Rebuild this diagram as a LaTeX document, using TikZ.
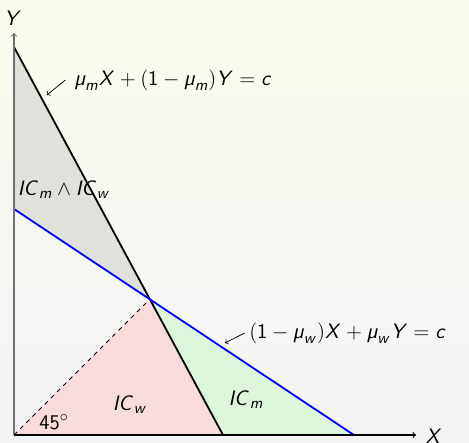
\documentclass[tikz,border=0pt]{standalone}
\usepackage{amsmath}
\renewcommand{\familydefault}{\sfdefault}
\DeclareMathAlphabet{\msl}{OT1}{cmss}{m}{sl}
\DeclareMathAlphabet{\mup}{OT1}{cmss}{m}{n}
\newcommand{\mymu}{\text{\normalfont\sffamily\itshape\char"00B5}}
\definecolor{bgtop}{RGB}{251,251,237}
\definecolor{bgbot}{RGB}{244,244,247}
\definecolor{regboth}{RGB}{225,225,219}
\definecolor{regw}{RGB}{248,219,219}
\definecolor{regm}{RGB}{221,245,219}
\definecolor{yaxis}{RGB}{110,110,110}
\begin{document}
\begin{tikzpicture}[x=0.69pt,y=-0.69pt,
  lbl/.style={font=\fontsize{15}{18}\selectfont\sffamily, inner sep=0pt},
  lblarrow/.style={->, >=to, line width=0.5pt},
  axisline/.style={->, >=to, line width=0.7pt},
  budget/.style={line width=1.25pt}]
\useasboundingbox (0,0) rectangle (469,442);
\shade[top color=bgtop, bottom color=bgbot] (0,0) rectangle (469,442);
\coordinate (O) at (14,435);
\coordinate (Ytop) at (14,47);
\coordinate (Bint) at (14,209);
\coordinate (P) at (150,299);
\coordinate (Xm) at (223,435);
\coordinate (Xw) at (354,435);
\coordinate (Yend) at (14,33);
\coordinate (Xend) at (416,435);
\coordinate (am) at (47,95);
\coordinate (aw) at (225,343);
\fill[regboth] (Ytop) -- (P) -- (Bint) -- cycle;
\fill[regw] (O) -- (P) -- (Xm) -- cycle;
\fill[regm] (P) -- (Xw) -- (Xm) -- cycle;
\draw[dashed, line width=0.5pt] (O) -- (P);
\draw[budget] (Ytop) -- (Xm);
\draw[budget, blue] (Bint) -- (Xw);
\draw[axisline, yaxis] (O) -- (Yend);
\draw[axisline] (O) -- (Xend);
\node[lbl] (ylab) at (13,18) {$\msl{Y}$};
\node[lbl] (xlab) at (434,436) {$\msl{X}$};
\node[lbl, anchor=west] (eqm) at (74,80) {$\mymu_{\msl{m}} \msl{X} + (\mup{1}-\mymu_{\msl{m}}) \msl{Y} = \msl{c}$};
\node[lbl, anchor=west] (eqw) at (249,333) {$(\mup{1}-\mymu_{\msl{w}}) \msl{X} + \mymu_{\msl{w}} \msl{Y} = \msl{c}$};
\draw[lblarrow] ([xshift=-6pt]eqm.west) -- (am);
\draw[lblarrow] ([xshift=-3pt]eqw.west) -- (aw);
\node[lbl] (both) at (64,190) {$\msl{IC}_{\msl{m}} \wedge \msl{IC}_{\msl{w}}$};
\node[lbl] (icw) at (130,405) {$\msl{IC}_{\msl{w}}$};
\node[lbl] (icm) at (246,400) {$\msl{IC}_{\msl{m}}$};
\node[lbl] (ang) at (54,422) {$\mup{45}^\circ$};
\end{tikzpicture}
\end{document}
